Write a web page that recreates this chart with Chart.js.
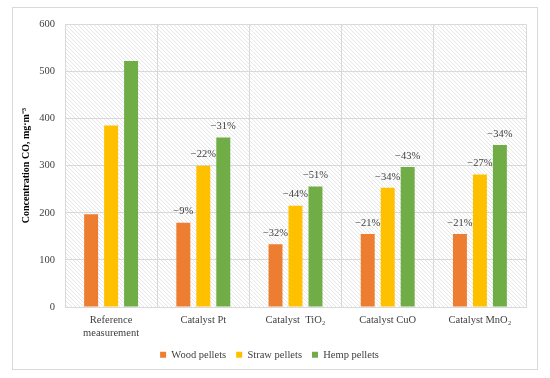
<!DOCTYPE html>
<html>
<head>
<meta charset="utf-8">
<script src="https://cdn.jsdelivr.net/npm/chart.js@4.4.0/dist/chart.umd.min.js"></script>
<style>
  html, body { margin: 0; padding: 0; background: #fff; }
  #frame { position: absolute; left: 12px; top: 7px; width: 526px; height: 363px; border: 1px solid #d9d9d9; box-sizing: border-box; }
  #wrap { position: absolute; left: 13px; top: 8px; width: 524px; height: 362px; }
</style>
</head>
<body>
<div id="frame"></div>
<div id="wrap"><canvas id="chart"></canvas></div>
<script>
// ---- Data ----
const categories = [["Reference", "measurement"], "Catalyst Pt", "Catalyst  TiO₂", "Catalyst CuO", "Catalyst MnO₂"];
const seriesNames = ["Wood pellets", "Straw pellets", "Hemp pellets"];
const woodValues  = [197, 179, 133, 155, 155];
const strawValues = [385, 300, 215, 253, 281];
const hempValues  = [522, 360, 256, 297, 344];
const woodLabels  = [null, "−9%",  "−32%", "−21%", "−21%"];
const strawLabels = [null, "−22%", "−44%", "−34%", "−27%"];
const hempLabels  = [null, "−31%", "−51%", "−43%", "−34%"];
const yTicks = [0, 100, 200, 300, 400, 500, 600];

// ---- Style ----
const C = { wood: "#ED7D31", straw: "#FFC000", hemp: "#70AD47", grid: "#d9d9d9", ink: "#404040" };
const FONT = "'Liberation Serif', 'Times New Roman', serif";

// hatched plot background
function hatch() {
  const t = document.createElement("canvas");
  t.width = 4; t.height = 4;
  const g = t.getContext("2d");
  g.fillStyle = "#fff"; g.fillRect(0, 0, 4, 4);
  g.strokeStyle = "#e6e6e6"; g.lineWidth = 1;
  g.beginPath(); g.moveTo(-1, -1); g.lineTo(5, 5); g.stroke();
  return t;
}

const plotBg = {
  id: "plotBg",
  beforeDraw(chart) {
    const { ctx, chartArea: a } = chart;
    ctx.save();
    ctx.fillStyle = ctx.createPattern(hatch(), "repeat");
    ctx.fillRect(a.left, a.top, a.right - a.left, a.bottom - a.top);
    ctx.restore();
  },
};

const pctLabels = {
  id: "pctLabels",
  afterDatasetsDraw(chart) {
    const { ctx } = chart;
    ctx.save();
    ctx.font = "10.5px " + FONT;
    ctx.fillStyle = C.ink;
    ctx.textAlign = "center";
    ctx.textBaseline = "middle";
    chart.data.datasets.forEach((ds, i) => {
      chart.getDatasetMeta(i).data.forEach((bar, j) => {
        const txt = ds.pct[j];
        if (txt) ctx.fillText(txt, bar.x, bar.y - 11);
      });
    });
    ctx.restore();
  },
};

const bar = (label, data, pct, color) => ({
  label, data, pct, backgroundColor: color, borderWidth: 0,
  categoryPercentage: 0.65, barPercentage: 0.7,
});

new Chart(document.getElementById("chart"), {
  type: "bar",
  data: {
    labels: categories,
    datasets: [
      bar(seriesNames[0], woodValues, woodLabels, C.wood),
      bar(seriesNames[1], strawValues, strawLabels, C.straw),
      bar(seriesNames[2], hempValues, hempLabels, C.hemp),
    ],
  },
  options: {
    responsive: true,
    maintainAspectRatio: false,
    animation: false,
    layout: { padding: { top: 11, right: 11, left: 0, bottom: 0 } },
    scales: {
      x: {
        grid: { color: C.grid, drawTicks: false },
        border: { color: C.grid },
        ticks: { color: C.ink, padding: 6.5, maxRotation: 0, autoSkip: false, font: { family: FONT, size: 10.5, lineHeight: 1.25 } },
        afterFit: (s) => { s.height = 32.5; },
      },
      y: {
        min: 0, max: 600,
        afterBuildTicks: (s) => { s.ticks = yTicks.map((v) => ({ value: v })); },
        grid: { color: C.grid, drawTicks: false },
        border: { display: false },
        ticks: { color: C.ink, padding: 10, font: { family: FONT, size: 10.5 } },
        title: {
          display: true, text: "Concentration CO, mg·m⁻³", color: "#000",
          font: { family: FONT, size: 10, weight: "bold" }, padding: { top: 7, bottom: 0 },
        },
        afterFit: (s) => { s.width = 52; },
      },
    },
    plugins: {
      legend: {
        position: "bottom",
        labels: { boxWidth: 6, boxHeight: 6, padding: 10, color: C.ink, font: { family: FONT, size: 10.5 } },
      },
      tooltip: { enabled: false },
    },
  },
  plugins: [plotBg, pctLabels],
});
</script>
</body>
</html>
